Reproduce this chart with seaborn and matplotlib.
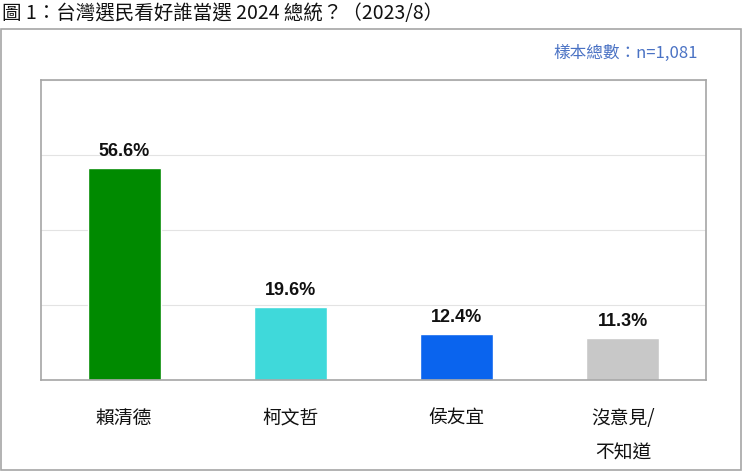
import matplotlib
matplotlib.use('Agg')
import matplotlib.pyplot as plt
import seaborn as sns
import pandas as pd
from matplotlib.patches import Rectangle
from matplotlib.ticker import FixedLocator

# datos
candidatos = ['賴清德', '柯文哲', '侯友宜', '沒意見/\n不知道']
porcentajes = [56.6, 19.6, 12.4, 11.3]
colores = ['#008A00', '#3FD9DA', '#0A64EE', '#C8C8C8']
titulo = '圖 1：台灣選民看好誰當選 2024 總統？（2023/8）'
muestra = '樣本總數：n=1,081'

df = pd.DataFrame({'candidato': candidatos, 'pct': porcentajes})

sns.set_style('white')
plt.rcParams['font.family'] = ['Noto Sans CJK TC', 'DejaVu Sans']

fig = plt.figure(figsize=(7.5, 4.72), dpi=100)
ax = fig.add_axes([41 / 750, 92 / 472, 665 / 750, 300 / 472])

sns.barplot(data=df, x='candidato', y='pct', hue='candidato', palette=colores,
            width=0.44, legend=False, ax=ax, saturation=1)

ax.set_ylim(0, 80)
ax.set_xlim(-0.5, 3.5)
ax.set_yticks([0, 20, 40, 60, 80])
ax.set_yticklabels([])
ax.tick_params(axis='y', length=0)
ax.yaxis.grid(True, color='#E3E3E3', linewidth=0.8)
ax.set_axisbelow(True)

ax.tick_params(axis='x', length=0, pad=20, labelsize=13.5, colors='#111111')
ax.xaxis.set_minor_locator(FixedLocator([0.5, 1.5, 2.5]))
ax.tick_params(axis='x', which='minor', direction='in', length=5, color='#A6A6A6', width=0.8)
for lbl in ax.get_xticklabels():
    lbl.set_linespacing(1.85)
    lbl.set_verticalalignment('top')
    lbl.set_fontweight('medium')

for s in ax.spines.values():
    s.set_color('#A6A6A6')
    s.set_linewidth(1.2)

ax.set_xlabel('')
ax.set_ylabel('')

# etiquetas de valor
for i, v in enumerate(porcentajes):
    ax.text(i, v + 2.0, f'{v}%', ha='center', va='bottom', fontsize=13,
            fontweight='bold', color='#111111', family=['Liberation Sans', 'DejaVu Sans'])

# marco exterior
fig.patches.append(Rectangle((1 / 750, 2 / 472), 740 / 750, 441 / 472,
                             transform=fig.transFigure, fill=False,
                             edgecolor='#A6A6A6', linewidth=1.2))

fig.text(2 / 750, 1 - 14 / 472, titulo, ha='left', va='center', fontsize=14, color='#111111')
fig.text(626 / 750, 1 - 53 / 472, muestra, ha='center', va='center', fontsize=12, color='#4A72C4')

fig.savefig('out.png', dpi=100)
